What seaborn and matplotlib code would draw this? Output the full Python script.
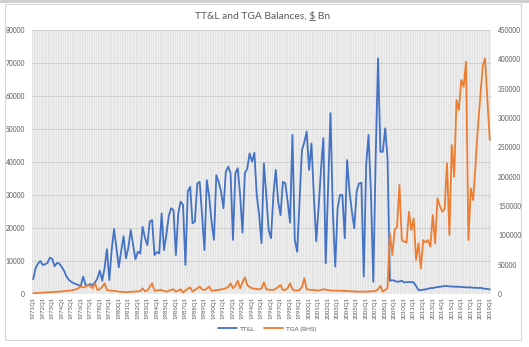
import numpy as np
import pandas as pd
import matplotlib
matplotlib.use("Agg")
import matplotlib.pyplot as plt
import seaborn as sns
from matplotlib.patches import Rectangle
from matplotlib.lines import Line2D

# Quarterly categories, 1971Q1 .. 2019Q1
years = list(range(1971, 2020))
quarters = [f"{y}Q{k}" for y in years for k in range(1, 5)][:193]

# Treasury Tax & Loan balances (left axis), four quarters per row
ttl = [
    4500, 7800, 9200, 10000,      # 1971
    8800, 9000, 9400, 11000,      # 1972
    10600, 8400, 9400, 9200,      # 1973
    8200, 7000, 5300, 4300,       # 1974
    3700, 3300, 3000, 2700,       # 1975
    2400, 5300, 2800, 2700,       # 1976
    3000, 2700, 3500, 4700,       # 1977
    7100, 4000, 7800, 13600,      # 1978
    4200, 13300, 19700, 14000,    # 1979
    8100, 13000, 17500, 10800,    # 1980
    14000, 19400, 15000, 10500,   # 1981
    12800, 12300, 20400, 17000,   # 1982
    14800, 21900, 22400, 11800,   # 1983
    12700, 12300, 24400, 13300,   # 1984
    18000, 23600, 26000, 25400,   # 1985
    11800, 24400, 28000, 27000,   # 1986
    8800, 31000, 32500, 21400,    # 1987
    22000, 33500, 34000, 24000,   # 1988
    13300, 34500, 29500, 22000,   # 1989
    16400, 36000, 34000, 31000,   # 1990
    26000, 37000, 38600, 36600,   # 1991
    16400, 36600, 38100, 30000,   # 1992
    18600, 36600, 38000, 42600,   # 1993
    40100, 42800, 30000, 24000,   # 1994
    15400, 39600, 30000, 19400,   # 1995
    16900, 30000, 37600, 28000,   # 1996
    23900, 34000, 33600, 28000,   # 1997
    21600, 48200, 16400, 12800,   # 1998
    28000, 43600, 46000, 49200,   # 1999
    37600, 45600, 30000, 16000,   # 2000
    26000, 37600, 47200, 9300,    # 2001
    32000, 54800, 25000, 8300,    # 2002
    26000, 30000, 30000, 16900,   # 2003
    40600, 31000, 25000, 19900,   # 2004
    31000, 33500, 33700, 5300,    # 2005
    39100, 48200, 31000, 3700,    # 2006
    41000, 71400, 43100, 43100,   # 2007
    50200, 41000, 4000, 4200,     # 2008
    4000, 3700, 3800, 4000,       # 2009
    3500, 3600, 3600, 3600,       # 2010
    3500, 2400, 1200, 1200,       # 2011
    1300, 1400, 1600, 1800,       # 2012
    1800, 2000, 2100, 2200,       # 2013
    2300, 2400, 2400, 2300,       # 2014
    2300, 2200, 2200, 2200,       # 2015
    2100, 2100, 2000, 2000,       # 2016
    2000, 1900, 1900, 1800,       # 2017
    1900, 1700, 1600, 1500,       # 2018
    1400,                         # 2019
]

# Treasury General Account balances (right axis)
tga = [
    1200, 1500, 1800, 2000,       # 1971
    2300, 2500, 2800, 3000,       # 1972
    3400, 3500, 3800, 4000,       # 1973
    4300, 4800, 5200, 5700,       # 1974
    6000, 7000, 8000, 10000,      # 1975
    12500, 11000, 12500, 15300,   # 1976
    13000, 10000, 18200, 6800,    # 1977
    8000, 12000, 18200, 6800,     # 1978
    6000, 5500, 5100, 4800,       # 1979
    4000, 3800, 3500, 2900,       # 1980
    3500, 3800, 4000, 4200,       # 1981
    4500, 5000, 9700, 4500,       # 1982
    6000, 12000, 18200, 5500,     # 1983
    6000, 6500, 6800, 5000,       # 1984
    4000, 5500, 7000, 8000,       # 1985
    4000, 6000, 8000, 2300,       # 1986
    6000, 9000, 11400, 4000,      # 1987
    7000, 9500, 12500, 8000,      # 1988
    6800, 9000, 12500, 5500,      # 1989
    6000, 6500, 6800, 8000,       # 1990
    8500, 9700, 12000, 18200,     # 1991
    9700, 14000, 22700, 9700,     # 1992
    20000, 28400, 15300, 12000,   # 1993
    9700, 9000, 8500, 8000,       # 1994
    9700, 19900, 8000, 7500,      # 1995
    7000, 6800, 9000, 12000,      # 1996
    15300, 6800, 7000, 10000,     # 1997
    18200, 8000, 5700, 6000,      # 1998
    6800, 12000, 26700, 8000,     # 1999
    7500, 7000, 6800, 6000,       # 2000
    5700, 7000, 8000, 7500,       # 2001
    6800, 6000, 5700, 5700,       # 2002
    5700, 5700, 5400, 5200,       # 2003
    5100, 4800, 4500, 4200,       # 2004
    4000, 4000, 4000, 4000,       # 2005
    4000, 4200, 4500, 4800,       # 2006
    5100, 8000, 13600, 4000,      # 2007
    6800, 10000, 103000, 66500,   # 2008
    109000, 114700, 185800, 92000,  # 2009
    89200, 88000, 140300, 109000,   # 2010
    129000, 58000, 86400, 43800,    # 2011
    92000, 88000, 92000, 80700,     # 2012
    134700, 86400, 163000, 150000,  # 2013
    140300, 145000, 222800, 100600, # 2014
    254000, 200000, 330700, 313600, # 2015
    364800, 353400, 396000, 92000,  # 2016
    180200, 160200, 220000, 285000, # 2017
    336300, 387400, 401700, 330000, # 2018
    262500,                         # 2019
]

left_ticks = list(range(0, 80001, 10000))
right_ticks = list(range(0, 450001, 50000))

BLUE = "#4472C4"
ORANGE = "#ED7D31"
GREY_TXT = "#595959"

df = pd.DataFrame({
    "idx": np.arange(len(quarters)),
    "quarter": quarters,
    "TT&L": ttl,
    "TGA (RHS)": tga,
})
n = len(df)

sns.set_theme(style="white")
plt.rcParams["font.family"] = ["Lato", "DejaVu Sans"]

W, H = 529, 347
fig = plt.figure(figsize=(W / 100, H / 100), dpi=100)
fig.patch.set_facecolor("white")

# chart frame and top strip
fig.add_artist(Rectangle((0, (H - 3) / H), 1, 3 / H, transform=fig.transFigure,
                         facecolor="#cfcfcf", edgecolor="none", zorder=0))
fig.add_artist(Rectangle((5 / W, 7 / H), 516 / W, 336 / H, transform=fig.transFigure,
                         facecolor="white", edgecolor="#d6d6d6", lw=0.8, zorder=0))

ax = fig.add_axes([32 / W, 53 / H, 459 / W, 264 / H])
ax.set_facecolor("#e4e4e4")
ax.set_zorder(1)

sns.lineplot(data=df, x="idx", y="TT&L", ax=ax, color=BLUE, lw=1.3, legend=False)
ax2 = ax.twinx()
sns.lineplot(data=df, x="idx", y="TGA (RHS)", ax=ax2, color=ORANGE, lw=1.3, legend=False)

ax.set_xlim(-0.5, n - 0.5)
ax.set_ylim(0, 80000)
ax2.set_ylim(0, 450000)

ax.set_xticks(np.arange(0, n, 4))
ax.set_xticklabels(quarters[::4], rotation=90, fontsize=4.3, color=GREY_TXT)
ax.set_xticks(np.arange(n), minor=True)
ax.set_yticks(left_ticks)
ax.set_yticklabels([str(v) for v in left_ticks], fontsize=4.8, color=GREY_TXT)
ax2.set_yticks(right_ticks)
ax2.set_yticklabels([str(v) for v in right_ticks], fontsize=4.8, color=GREY_TXT)

ax.grid(which="minor", axis="x", color="#f6f6f6", lw=0.45)
ax.grid(which="major", axis="x", color="#f6f6f6", lw=0.45)
ax.grid(which="major", axis="y", color="#cdcdcd", lw=0.6)
ax.set_axisbelow(True)

for a in (ax, ax2):
    a.set_xlabel("")
    a.set_ylabel("")
    a.tick_params(axis="both", which="both", length=0)
    for s in a.spines.values():
        s.set_visible(False)
ax.tick_params(axis="x", pad=2)
ax.tick_params(axis="y", pad=5)
ax2.tick_params(axis="y", pad=5)

# title with the dollar sign underlined
TITLE_SIZE = 7.4
title_str = "TT&L and TGA Balances, $ Bn"
tx, ty = 0.496, 0.955
title = fig.text(tx, ty, title_str, ha="center", va="center", fontsize=TITLE_SIZE, color=GREY_TXT)
renderer = fig.canvas.get_renderer()
full_bb = title.get_window_extent(renderer)
probe = fig.text(0, 0, "TT&L and TGA Balances, $", fontsize=TITLE_SIZE)
w_upto = probe.get_window_extent(renderer).width
probe.remove()
probe = fig.text(0, 0, "$", fontsize=TITLE_SIZE)
w_dollar = probe.get_window_extent(renderer).width
probe.remove()
x_end = full_bb.x0 + w_upto
x_start = x_end - w_dollar
y_line = full_bb.y0 + 0.5
fig.add_artist(Line2D([x_start / W, x_end / W], [y_line / H] * 2,
                      transform=fig.transFigure, color=GREY_TXT, lw=0.6))

handles = [Line2D([], [], color=BLUE, lw=1.3), Line2D([], [], color=ORANGE, lw=1.3)]
fig.legend(handles, ["TT&L", "TGA (RHS)"], loc="center", bbox_to_anchor=(0.505, 0.052),
           ncol=2, frameon=False, fontsize=4.6, handlelength=3.0, columnspacing=1.4,
           handletextpad=0.4, labelcolor=GREY_TXT)

fig.savefig("out.png", dpi=100)
